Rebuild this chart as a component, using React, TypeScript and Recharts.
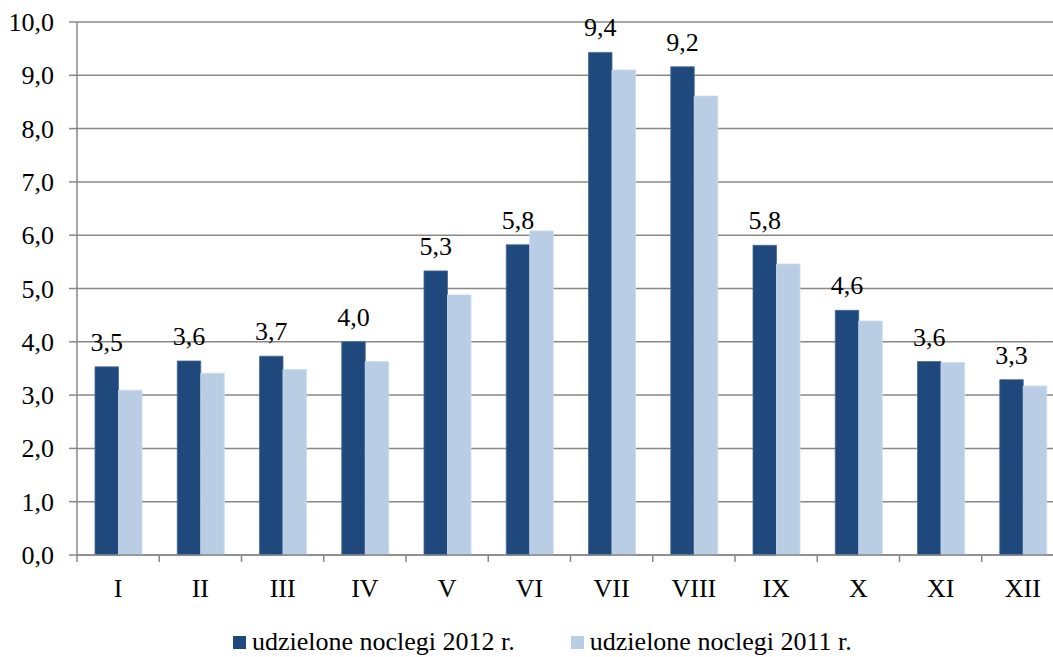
import React from "react";
import { BarChart, Bar, XAxis, YAxis, CartesianGrid, Legend, LabelList } from "recharts";

// miesiące
const months = ["I", "II", "III", "IV", "V", "VI", "VII", "VIII", "IX", "X", "XI", "XII"];
// udzielone noclegi (mln)
const noclegi2012 = [3.53, 3.64, 3.73, 4.0, 5.33, 5.82, 9.43, 9.16, 5.81, 4.59, 3.63, 3.29];
const noclegi2011 = [3.09, 3.41, 3.48, 3.63, 4.88, 6.08, 9.1, 8.61, 5.46, 4.39, 3.61, 3.17];
const yTicks = [0, 1, 2, 3, 4, 5, 6, 7, 8, 9, 10];

const seriesNames = ["udzielone noclegi 2012 r.", "udzielone noclegi 2011 r."];
const DARK = "#1F497D";
const LIGHT = "#B9CDE5";
const GRID = "#888888";
const FONT = "Liberation Serif";

const data = months.map((m, i) => ({
  month: m,
  y2012: noclegi2012[i],
  y2011: noclegi2011[i],
}));

const fmt = (v: number) => v.toFixed(1).replace(".", ",");

const MonthTick = (props: any) => {
  const { x, y, payload } = props;
  const half = payload && typeof payload.offset === "number" ? payload.offset : 41.1;
  return (
    <g>
      <line x1={x - half} x2={x - half} y1={y - 7} y2={y} stroke={GRID} strokeWidth={1.5} />
      <text x={x} y={y + 35} textAnchor="middle" fill="#000" fontFamily={FONT} fontSize={26}>
        {payload.value}
      </text>
    </g>
  );
};

const ValueTick = (props: any) => {
  const { x, y, payload } = props;
  return (
    <text x={x} y={y + 9} textAnchor="end" fill="#000" fontFamily={FONT} fontSize={26}>
      {fmt(Number(payload.value))}
    </text>
  );
};

const BarValue = (props: any) => {
  const { x, y, width, value } = props;
  return (
    <text x={x + width / 2} y={y - 16} textAnchor="middle" fill="#000" fontFamily={FONT} fontSize={26}>
      {fmt(Number(value))}
    </text>
  );
};

const LegendBox = () => (
  <div style={{ display: "flex", alignItems: "center", height: 30, paddingLeft: 233, fontFamily: FONT, fontSize: 26, color: "#000" }}>
    <span style={{ width: 13, height: 13, background: DARK, display: "inline-block", marginRight: 6 }} />
    <span style={{ fontFamily: FONT }}>{seriesNames[0]}</span>
    <span style={{ width: 13, height: 13, background: LIGHT, display: "inline-block", marginRight: 6, marginLeft: 56 }} />
    <span style={{ fontFamily: FONT }}>{seriesNames[1]}</span>
  </div>
);

export default function App() {
  return (
    <div style={{ position: "fixed", left: 0, top: 0, width: 1053, height: 657, overflow: "hidden", background: "#fff", fontFamily: FONT }}>
      <BarChart
        width={1064}
        height={657}
        data={data}
        margin={{ top: 22, right: 0, left: 0, bottom: 0 }}
        barGap={0}
        barSize={23.5}
        style={{ fontFamily: FONT }}
      >
        <CartesianGrid vertical={false} stroke={GRID} strokeWidth={1.5} />
        <XAxis
          dataKey="month"
          height={72}
          tickSize={7}
          tickMargin={0}
          tickLine={false}
          axisLine={{ stroke: GRID, strokeWidth: 1.5 }}
          tick={<MonthTick />}
          interval={0}
        />
        <YAxis
          width={77}
          domain={[0, 10]}
          ticks={yTicks}
          tickSize={8}
          tickMargin={15}
          tickLine={{ stroke: GRID, strokeWidth: 1.5 }}
          axisLine={{ stroke: GRID, strokeWidth: 1.5 }}
          tick={<ValueTick />}
        />
        <Legend verticalAlign="bottom" wrapperStyle={{ left: 0, width: 1064, height: 30 }} content={<LegendBox />} />
        <Bar dataKey="y2012" name={seriesNames[0]} fill={DARK} stroke="#4A6A96" strokeWidth={0.8} isAnimationActive={false}>
          <LabelList dataKey="y2012" content={<BarValue />} />
        </Bar>
        <Bar dataKey="y2011" name={seriesNames[1]} fill={LIGHT} stroke="#CBDAEC" strokeWidth={0.8} isAnimationActive={false} />
      </BarChart>
    </div>
  );
}
